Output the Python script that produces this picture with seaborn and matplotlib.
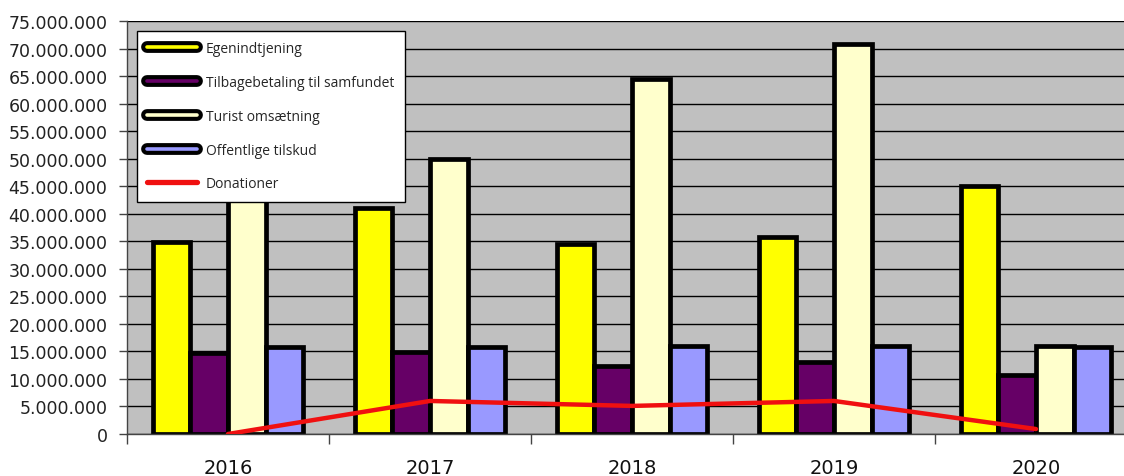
import numpy as np
import pandas as pd
import matplotlib.pyplot as plt
import matplotlib.patheffects as pe
from matplotlib.lines import Line2D
from matplotlib.ticker import FuncFormatter, MultipleLocator, FixedLocator
import seaborn as sns

# data
years = ['2016', '2017', '2018', '2019', '2020']
egenindtjening = [34900000, 41000000, 34500000, 35800000, 45000000]
tilbagebetaling = [14700000, 14900000, 12400000, 13100000, 10700000]
turist = [47000000, 49900000, 64500000, 70800000, 16000000]
tilskud = [15800000, 15800000, 16000000, 16000000, 15800000]
donationer = [0, 6000000, 5100000, 6000000, 900000]

series = ['Egenindtjening', 'Tilbagebetaling til samfundet', 'Turist omsætning', 'Offentlige tilskud']
colors = ['#FFFF00', '#660066', '#FFFFCC', '#9999FF']

df = pd.DataFrame({
    'year': years * 4,
    'value': egenindtjening + tilbagebetaling + turist + tilskud,
    'serie': [s for s in series for _ in years],
})

sns.set_style('white')
plt.rcParams['font.family'] = ['DejaVu Sans']

fig = plt.figure(figsize=(11.24, 4.77), dpi=100)
ax = fig.add_axes([127 / 1124, 42 / 477, 1010 / 1124, 413 / 477])
ax.set_facecolor('#C0C0C0')

sns.barplot(data=df, x='year', y='value', hue='serie', palette=colors, width=0.745,
            edgecolor='black', linewidth=3.4, saturation=1, legend=False, ax=ax)
sns.lineplot(x=np.arange(len(years)), y=donationer, color='#F01010', linewidth=3.2, ax=ax, zorder=5)

ax.set_xlim(-0.5, 4.5)
ax.set_ylim(0, 75000000)
ax.yaxis.set_major_locator(MultipleLocator(5000000))
ax.yaxis.set_major_formatter(FuncFormatter(lambda v, p: f'{int(v):,}'.replace(',', '.')))
ax.set_axisbelow(True)
ax.grid(axis='y', color='black', linewidth=1)
ax.set_xlabel('')
ax.set_ylabel('')

ax.xaxis.set_minor_locator(FixedLocator(np.arange(-0.5, 5, 1)))
ax.tick_params(axis='x', which='major', length=0, pad=17, labelsize=14, labelcolor='#111111')
ax.tick_params(axis='x', which='minor', length=7, width=1, color='#444444', direction='out', bottom=True)
ax.tick_params(axis='y', length=6, width=1, color='#444444', direction='out', left=True,
               labelsize=12.5, labelcolor='#222222', pad=8)
for s in ['top', 'right']:
    ax.spines[s].set_visible(False)
for s in ['left', 'bottom']:
    ax.spines[s].set_color('#444444')
    ax.spines[s].set_linewidth(1)

handles = [Line2D([0], [0], color=c, lw=2.6,
                  path_effects=[pe.Stroke(linewidth=8.5, foreground='black'), pe.Normal()])
           for c in colors]
handles.append(Line2D([0], [0], color='#F01010', lw=3.8, solid_capstyle='round'))
leg = ax.legend(handles, series + ['Donationer'], loc='upper left', bbox_to_anchor=(0.0099, 0.976),
                borderaxespad=0, fancybox=False, framealpha=1, edgecolor='black',
                prop={'family': 'Open Sans', 'size': 10}, handlelength=3.6, handletextpad=0.6,
                labelspacing=1.35, borderpad=0.75)
leg.get_frame().set_linewidth(1)

fig.savefig('out.png', dpi=100)
